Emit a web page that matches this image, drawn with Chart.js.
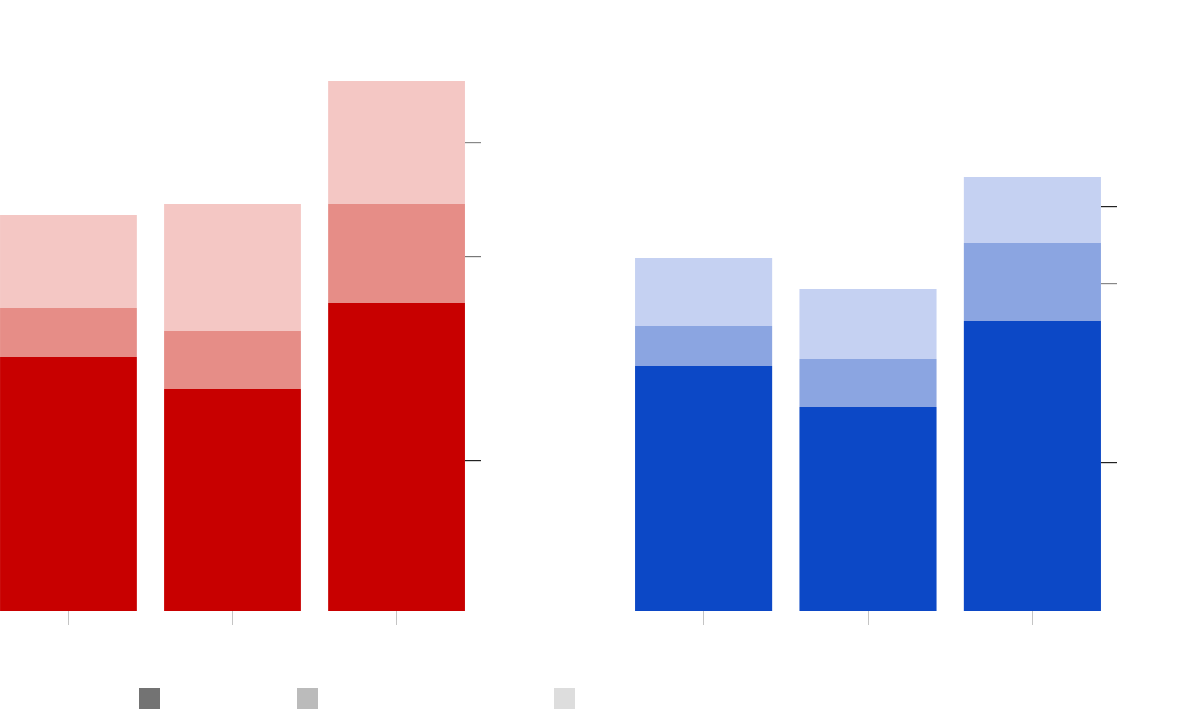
<!DOCTYPE html>
<html lang="en">
  <head>
    <meta charset="UTF-8" />
    <title>Stacked bars</title>
    <script src="https://cdn.jsdelivr.net/npm/chart.js"></script>
    <style>
      html, body { margin: 0; padding: 0; background: #fff; }
      body { width: 1190px; height: 720px; position: relative; overflow: hidden; }
      .panel { position: absolute; top: 0; height: 720px; }
      #leftPanel { left: 0; width: 481px; }
      #rightPanel { left: 635px; width: 482px; }
      .swatch { position: absolute; top: 688px; width: 21px; height: 21px; }
    </style>
  </head>
  <body>
    <div class="panel" id="leftPanel"><canvas id="leftChart"></canvas></div>
    <div class="panel" id="rightPanel"><canvas id="rightChart"></canvas></div>
    <div class="swatch" style="left:139px;background:#737373"></div>
    <div class="swatch" style="left:297px;background:#bbbbbb"></div>
    <div class="swatch" style="left:554px;background:#dddddd"></div>

    <script>
      // categories (x positions 0,1,2 on a linear axis)
      const categories = [0, 1, 2];

      // left panel (red)
      const leftBase = [25.4, 22.2, 30.8];
      const leftMid = [4.9, 5.8, 9.9];
      const leftTop = [9.3, 12.7, 12.3];
      const leftTicks = [15.0, 35.4, 46.8];

      // right panel (blue)
      const rightBase = [24.5, 20.4, 29.0];
      const rightMid = [4.0, 4.8, 7.8];
      const rightTop = [6.8, 7.0, 6.6];
      const rightTicks = [14.8, 32.7, 40.4];

      const yMax = 56;

      function points(values) {
        return values.map((v, i) => ({ x: categories[i], y: v }));
      }

      function makeChart(id, series, colors, yTicks, tickColors) {
        const ctx = document.getElementById(id).getContext("2d");
        return new Chart(ctx, {
          type: "bar",
          data: {
            datasets: series.map((s, i) => ({
              data: points(s),
              backgroundColor: colors[i],
              borderWidth: 0,
              barPercentage: 1,
              categoryPercentage: 0.834,
            })),
          },
          options: {
            responsive: true,
            maintainAspectRatio: false,
            animation: false,
            layout: { padding: { top: 51, bottom: 95, left: 0, right: 0 } },
            plugins: { legend: { display: false }, tooltip: { enabled: false } },
            scales: {
              x: {
                type: "linear",
                stacked: true,
                offset: false,
                min: -0.4173,
                max: 2.4173,
                afterBuildTicks: (axis) => {
                  axis.ticks = categories.map((c) => ({ value: c }));
                },
                ticks: { display: false },
                border: { display: false },
                grid: {
                  offset: false,
                  drawOnChartArea: false,
                  drawTicks: true,
                  tickLength: 14,
                  color: "#c4c4c4",
                  lineWidth: 1,
                },
              },
              y: {
                position: "right",
                stacked: true,
                min: 0,
                max: yMax,
                afterBuildTicks: (axis) => {
                  axis.ticks = yTicks.map((t) => ({ value: t }));
                },
                ticks: { display: false },
                border: { display: false },
                grid: {
                  drawOnChartArea: false,
                  drawTicks: true,
                  tickLength: 16,
                  color: (c) => tickColors[c.index] || "#222",
                  lineWidth: 1.2,
                },
              },
            },
          },
        });
      }

      makeChart(
        "leftChart",
        [leftBase, leftMid, leftTop],
        ["#c80000", "#e68d87", "#f4c7c4"],
        leftTicks,
        ["#222222", "#777777", "#888888"]
      );

      makeChart(
        "rightChart",
        [rightBase, rightMid, rightTop],
        ["#0c48c6", "#8ba5e1", "#c5d1f2"],
        rightTicks,
        ["#222222", "#888888", "#222222"]
      );
    </script>
  </body>
</html>
